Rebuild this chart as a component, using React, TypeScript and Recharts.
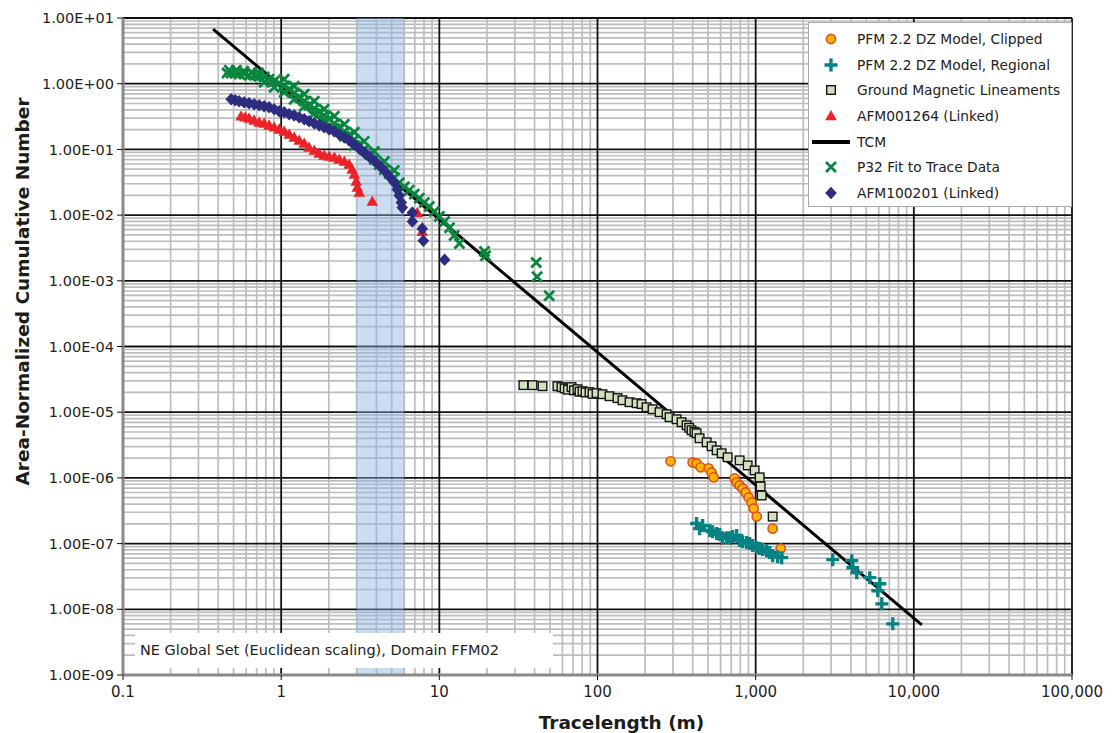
import React from 'react';
import { ScatterChart, Scatter, XAxis, YAxis, CartesianGrid, ReferenceArea, Legend } from 'recharts';

const FONT = '"DejaVu Sans", "Liberation Sans", sans-serif';

// Axis ticks and labels
const xTicks = [0.1, 1, 10, 100, 1000, 10000, 100000];
const xTickLabels = ['0.1', '1', '10', '100', '1,000', '10,000', '100,000'];
const yTicks = [1e-9, 1e-8, 1e-7, 1e-6, 1e-5, 1e-4, 1e-3, 1e-2, 1e-1, 1, 10];
const yTickLabels = ['1.00E-09', '1.00E-08', '1.00E-07', '1.00E-06', '1.00E-05', '1.00E-04', '1.00E-03', '1.00E-02', '1.00E-01', '1.00E+00', '1.00E+01'];
const minorMantissas = [2, 3, 4, 5, 6, 7, 8, 9];

// Highlighted tracelength band (m)
const band = [3, 6];

// Series names
const nameClipped = 'PFM 2.2 DZ Model, Clipped';
const nameRegional = 'PFM 2.2 DZ Model, Regional';
const nameGround = 'Ground Magnetic Lineaments';
const nameAfm1264 = 'AFM001264 (Linked)';
const nameTcm = 'TCM';
const nameP32 = 'P32 Fit to Trace Data';
const nameAfm100201 = 'AFM100201 (Linked)';
const annotation = 'NE Global Set (Euclidean scaling), Domain FFM02';

// Data: [tracelength (m), area-normalized cumulative number]
const tcm = [[0.371, 6.79], [11237, 5.8e-9]];

const p32 = [
  [0.455, 1.45], [0.483, 1.45], [0.512, 1.45], [0.542, 1.4], [0.583, 1.4], [0.627, 1.35], [0.675, 1.35], [0.726, 1.3],
  [0.781, 1.26], [0.839, 1.17], [0.903, 1.09], [0.971, 1.02], [1.045, 0.92], [1.124, 0.82], [1.209, 0.72], [1.3, 0.62],
  [1.4, 0.54], [1.5, 0.47], [1.62, 0.42], [1.74, 0.37], [1.87, 0.33], [2.01, 0.287], [2.17, 0.249], [2.33, 0.217],
  [2.51, 0.188], [2.69, 0.164], [2.9, 0.142], [3.12, 0.119], [3.35, 0.1], [3.61, 0.084], [3.88, 0.07], [4.17, 0.059],
  [4.49, 0.0495], [4.83, 0.043], [5.19, 0.037], [5.58, 0.031], [6.01, 0.027], [6.46, 0.024], [6.95, 0.021], [7.47, 0.018],
  [8.04, 0.0155], [8.64, 0.0135], [9.3, 0.0113], [10.0, 0.0095], [10.8, 0.008], [11.6, 0.0064], [12.4, 0.0049], [13.4, 0.0037],
  [0.47, 1.6], [0.52, 1.6], [0.58, 1.55], [0.65, 1.5], [0.72, 1.45],
  [1.045, 1.17], [1.209, 0.916], [1.4, 0.69], [1.62, 0.54], [1.87, 0.408], [2.17, 0.319], [2.51, 0.241], [2.9, 0.182],
  [3.35, 0.1325], [3.88, 0.0932], [4.49, 0.0656], [5.19, 0.0478],
  [0.781, 1.054], [0.903, 0.884], [1.045, 0.742], [1.209, 0.58], [1.4, 0.453], [1.62, 0.354], [1.87, 0.277], [2.17, 0.209],
  [2.51, 0.158], [2.9, 0.115],
  [19.3, 0.0028], [19.6, 0.0024], [41.0, 0.0019], [41.5, 0.00115], [49.5, 0.00059],
];

const afm100201 = [
  [0.483, 0.58], [0.512, 0.56], [0.542, 0.54], [0.583, 0.522], [0.627, 0.504], [0.675, 0.486], [0.726, 0.47], [0.781, 0.453],
  [0.839, 0.438], [0.903, 0.408], [0.971, 0.38], [1.045, 0.367], [1.124, 0.342], [1.209, 0.33], [1.3, 0.308], [1.4, 0.287],
  [1.5, 0.268], [1.62, 0.249], [1.74, 0.2325], [1.87, 0.217], [2.01, 0.202], [2.17, 0.188], [2.33, 0.169], [2.51, 0.1525],
  [2.69, 0.137], [2.9, 0.119], [3.12, 0.1036], [3.35, 0.09], [3.61, 0.0781], [3.88, 0.0679], [4.17, 0.057], [4.49, 0.0478],
  [4.83, 0.0387], [5.19, 0.0313], [5.42, 0.0245], [5.58, 0.0199], [5.75, 0.0155], [5.83, 0.013],
  [6.75, 0.0109], [6.75, 0.008], [7.8, 0.00622], [7.92, 0.00408], [10.8, 0.00209],
];

const afm001264 = [
  [0.558, 0.319], [0.592, 0.308], [0.627, 0.297], [0.675, 0.277], [0.726, 0.258], [0.781, 0.249], [0.839, 0.2325], [0.903, 0.217],
  [0.971, 0.202], [1.045, 0.188], [1.124, 0.169], [1.209, 0.1525], [1.3, 0.137], [1.4, 0.1234], [1.5, 0.1073], [1.62, 0.0965],
  [1.74, 0.0869], [1.87, 0.081], [2.01, 0.0781], [2.17, 0.0755], [2.33, 0.0704], [2.51, 0.0656], [2.69, 0.059], [2.81, 0.0495],
  [2.9, 0.0415], [2.98, 0.0325], [3.03, 0.0263], [3.12, 0.0221], [3.77, 0.0161], [7.26, 0.0109], [7.8, 0.0056],
];

const groundMag = [
  [34.0, 2.58e-5], [38.8, 2.58e-5], [44.9, 2.49e-5], [55.8, 2.49e-5], [59.2, 2.41e-5], [62, 2.3e-5], [65, 2.2e-5], [68.5, 2.41e-5],
  [71, 2.15e-5], [74.7, 2.24e-5], [77, 2.05e-5], [80.4, 2.09e-5], [84, 2.0e-5], [89.0, 2.02e-5], [93, 1.9e-5], [98.6, 1.95e-5],
  [107.5, 1.88e-5], [119.1, 1.75e-5], [133.8, 1.64e-5], [143.9, 1.52e-5], [159.4, 1.42e-5], [176.6, 1.37e-5], [189.9, 1.33e-5],
  [204.3, 1.19e-5], [222.9, 1.11e-5], [246.9, 1.0e-5], [273.4, 9.32e-6], [285.6, 8.39e-6], [316.2, 7.81e-6], [340.1, 7.04e-6],
  [365.8, 6.33e-6], [380, 5.8e-6], [393.4, 5.31e-6], [410, 5.0e-6], [423.1, 4.78e-6], [442.0, 4.01e-6], [489.8, 3.48e-6],
  [526.6, 3.03e-6], [566.6, 2.63e-6], [609.3, 2.37e-6], [665.0, 2.06e-6], [792, 1.85e-6], [890, 1.55e-6], [985, 1.3e-6],
  [1060, 1.02e-6], [1075, 7.42e-7], [1091, 5.4e-7], [1281, 2.58e-7],
];

const pfmClipped = [
  [289.7, 1.79e-6], [399.3, 1.72e-6], [423.1, 1.66e-6], [448.6, 1.45e-6], [504, 1.4e-6], [526.6, 1.21e-6], [542.3, 1.02e-6],
  [736, 9.83e-7], [758, 8.54e-7], [792, 7.68e-7], [827, 6.91e-7], [864, 6.01e-7], [903, 5.04e-7], [943, 4.23e-7],
  [971, 3.42e-7], [1015, 2.58e-7], [1281, 1.69e-7], [1440, 8.39e-8],
];

const pfmRegional = [
  [423, 2.02e-7], [442, 1.69e-7], [462, 1.88e-7], [512, 1.58e-7], [534, 1.52e-7], [567, 1.42e-7], [592, 1.37e-7], [618, 1.23e-7],
  [655, 1.23e-7], [685, 1.23e-7], [715, 1.28e-7], [758, 1.33e-7], [792, 1.11e-7], [827, 1.07e-7], [877, 1.04e-7], [916, 1.0e-7],
  [957, 9.32e-8], [1015, 8.69e-8], [1060, 8.39e-8], [1107, 8.1e-8], [1173, 7.81e-8], [1226, 7.29e-8], [1281, 6.56e-8],
  [1378, 6.33e-8], [1460, 6.11e-8], [3071, 5.7e-8], [4052, 5.5e-8], [4111, 4.3e-8], [4358, 3.61e-8], [5266, 3.03e-8],
  [6093, 2.45e-8], [5920, 1.92e-8], [6275, 1.21e-8], [7362, 6.01e-9],
];

const toPts = (arr: number[][]) => arr.map(([x, y]) => ({ x, y }));

const xMinor = xTicks.slice(0, -1).flatMap((d) => minorMantissas.map((m) => m * d));
const yMinor = yTicks.slice(0, -1).flatMap((d) => minorMantissas.map((m) => m * d));

const sameLog = (a: number, b: number) => Math.abs(Math.log10(a) - Math.log10(b)) < 1e-6;
const fmtX = (v: number) => {
  const i = xTicks.findIndex((t) => sameLog(t, v));
  return i >= 0 ? xTickLabels[i] : '';
};
const fmtY = (v: number) => {
  const i = yTicks.findIndex((t) => sameLog(t, v));
  return i >= 0 ? yTickLabels[i] : '';
};

// Marker shapes
const C = {
  clippedFill: '#FFB400',
  clippedStroke: '#D9531E',
  teal: '#078282',
  squareFill: '#D3E0BF',
  red: '#EC2228',
  green: '#07873D',
  navy: '#2D2C80',
};

const CircleShape = (p: any) => (
  <circle cx={p.cx} cy={p.cy} r={4.6} fill={C.clippedFill} stroke={C.clippedStroke} strokeWidth={1.6} />
);
const PlusShape = (p: any) => (
  <path d={`M${p.cx - 6.5},${p.cy}H${p.cx + 6.5}M${p.cx},${p.cy - 6.5}V${p.cy + 6.5}`} stroke={C.teal} strokeWidth={3.4} fill="none" />
);
const SquareShape = (p: any) => (
  <rect x={p.cx - 4.3} y={p.cy - 4.3} width={8.6} height={8.6} fill={C.squareFill} stroke="#151515" strokeWidth={1.4} />
);
const TriangleShape = (p: any) => (
  <path d={`M${p.cx},${p.cy - 6}L${p.cx + 5.8},${p.cy + 4.3}L${p.cx - 5.8},${p.cy + 4.3}Z`} fill={C.red} />
);
const XShape = (p: any) => (
  <path
    d={`M${p.cx - 5},${p.cy - 5}L${p.cx + 5},${p.cy + 5}M${p.cx - 5},${p.cy + 5}L${p.cx + 5},${p.cy - 5}`}
    stroke={C.green}
    strokeWidth={2.8}
    fill="none"
  />
);
const DiamondShape = (p: any) => (
  <path d={`M${p.cx},${p.cy - 6.3}L${p.cx + 5.8},${p.cy}L${p.cx},${p.cy + 6.3}L${p.cx - 5.8},${p.cy}Z`} fill={C.navy} />
);
const NoShape = () => <g />;

const legendItems = [
  { name: nameClipped, Icon: CircleShape },
  { name: nameRegional, Icon: PlusShape },
  { name: nameGround, Icon: SquareShape },
  { name: nameAfm1264, Icon: TriangleShape },
  { name: nameTcm, Icon: null as any },
  { name: nameP32, Icon: XShape },
  { name: nameAfm100201, Icon: DiamondShape },
];

const LegendBox = () => (
  <div
    style={{
      width: 264,
      height: 185,
      boxSizing: 'border-box',
      border: '1px solid #a9a9a9',
      background: '#fff',
      paddingTop: 3,
      fontFamily: FONT,
      fontSize: 13.8,
      color: '#222',
    }}
  >
    {legendItems.map((it) => (
      <div key={it.name} style={{ height: 25.7, display: 'flex', alignItems: 'center' }}>
        <svg width={48} height={20} style={{ flex: 'none' }}>
          {it.Icon ? <it.Icon cx={22} cy={10} /> : <line x1={3} x2={41} y1={10} y2={10} stroke="#000" strokeWidth={4} />}
        </svg>
        <span style={{ whiteSpace: 'nowrap' }}>{it.name}</span>
      </div>
    ))}
  </div>
);

const XTitle = (props: any) => {
  const vb = props.viewBox || { x: 123, y: 675, width: 949, height: 58 };
  return (
    <text x={vb.x + vb.width / 2 + 24} y={vb.y + vb.height - 4} textAnchor="middle" fontFamily={FONT} fontWeight="bold" fontSize={18.5} fill="#1c1c1c">
      Tracelength (m)
    </text>
  );
};

const YTitle = (props: any) => {
  const vb = props.viewBox || { x: 0, y: 18, width: 123, height: 657 };
  const cx = vb.x + 22;
  const cy = vb.y + vb.height / 2 - 55;
  return (
    <text
      x={cx}
      y={cy}
      transform={`rotate(-90 ${cx} ${cy})`}
      textAnchor="middle"
      dominantBaseline="central"
      fontFamily={FONT}
      fontWeight="bold"
      fontSize={18.5}
      fill="#1c1c1c"
    >
      Area-Normalized Cumulative Number
    </text>
  );
};

export default function App() {
  return (
    <div style={{ position: 'absolute', left: 0, top: 0, width: 1114, height: 733, background: '#fff', overflow: 'hidden' }}>
      <ScatterChart width={1114} height={733} margin={{ top: 18, right: 42, bottom: 0, left: 0 }}>
        <CartesianGrid horizontalValues={yMinor} verticalValues={xMinor} stroke="#bdbdbd" strokeWidth={1.7} />
        <ReferenceArea x1={band[0]} x2={band[1]} fill="#8db3e2" fillOpacity={0.45} stroke="none" ifOverflow="hidden" />
        <CartesianGrid horizontalValues={yTicks} verticalValues={xTicks} stroke="#111" strokeWidth={1.8} />
        <XAxis
          type="number"
          dataKey="x"
          scale="log"
          domain={[0.1, 100000]}
          ticks={xTicks}
          tickFormatter={fmtX}
          interval={0}
          allowDataOverflow
          height={58}
          axisLine={{ stroke: '#8a8a8a', strokeWidth: 3 }}
          tickLine={{ stroke: '#111' }}
          tickSize={5}
          tickMargin={6}
          tick={{ fontFamily: FONT, fontSize: 15, fill: '#232323' }}
          label={{ content: XTitle }}
        />
        <YAxis
          type="number"
          dataKey="y"
          scale="log"
          domain={[1e-9, 10]}
          ticks={yTicks}
          tickFormatter={fmtY}
          interval={0}
          allowDataOverflow
          width={123}
          axisLine={{ stroke: '#8a8a8a', strokeWidth: 3 }}
          tickLine={{ stroke: '#111' }}
          tickSize={6}
          tickMargin={3}
          tick={{ fontFamily: FONT, fontSize: 14.5, fill: '#232323' }}
          label={{ content: YTitle }}
        />
        <Scatter name={nameTcm} data={toPts(tcm)} shape={NoShape} line={{ stroke: '#000', strokeWidth: 3 }} isAnimationActive={false} legendType="none" />
        <Scatter name={nameAfm1264} data={toPts(afm001264)} shape={TriangleShape} isAnimationActive={false} />
        <Scatter name={nameP32} data={toPts(p32)} shape={XShape} isAnimationActive={false} />
        <Scatter name={nameAfm100201} data={toPts(afm100201)} shape={DiamondShape} isAnimationActive={false} />
        <Scatter name={nameGround} data={toPts(groundMag)} shape={SquareShape} isAnimationActive={false} />
        <Scatter name={nameClipped} data={toPts(pfmClipped)} shape={CircleShape} isAnimationActive={false} />
        <Scatter name={nameRegional} data={toPts(pfmRegional)} shape={PlusShape} isAnimationActive={false} />
        <Legend
          layout="vertical"
          align="center"
          verticalAlign="middle"
          content={<LegendBox />}
          wrapperStyle={{ position: 'absolute', left: 808, top: 22, width: 264, height: 185, margin: 0 }}
        />
      </ScatterChart>
      <div
        style={{
          position: 'absolute',
          left: 135,
          top: 633,
          width: 418,
          height: 35,
          background: '#fff',
          boxSizing: 'border-box',
          paddingLeft: 5,
          lineHeight: '35px',
          fontFamily: FONT,
          fontSize: 14.5,
          color: '#222',
          whiteSpace: 'nowrap',
        }}
      >
        {annotation}
      </div>
    </div>
  );
}
